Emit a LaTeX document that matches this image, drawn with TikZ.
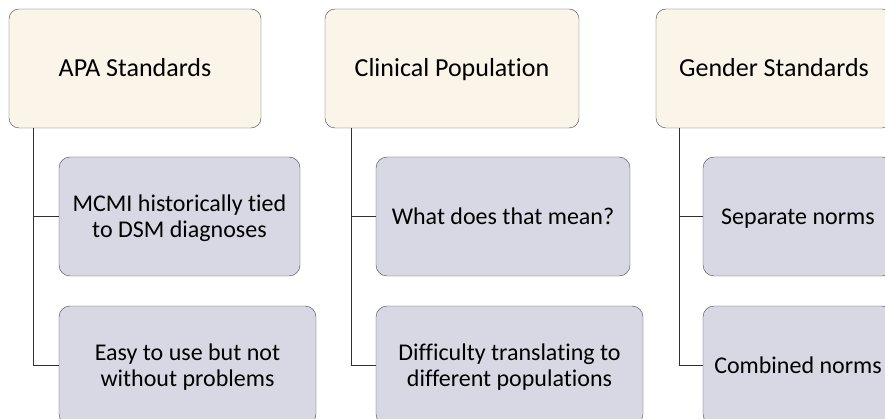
\documentclass[tikz,border=0pt]{standalone}
\usepackage{fontspec}
\setmainfont{Carlito}[Ligatures=NoCommon]
\definecolor{headfill}{RGB}{250,244,233}
\definecolor{itemfill}{RGB}{216,216,228}
\definecolor{linegray}{RGB}{48,48,48}
\definecolor{boxgray}{RGB}{70,70,70}
\newcommand{\lnstrut}{\rule[-0.206em]{0pt}{1.056em}}
\begin{document}
\begin{tikzpicture}[x=1pt,y=-1pt]

        \useasboundingbox (0,0) rectangle (885,419);
        \clip (0,0) rectangle (885,419);

        \begin{scope}[every node/.style={draw=boxgray,fill=headfill,rounded corners=10pt,
            minimum height=119pt,inner sep=0pt,font=\fontsize{26}{30}\selectfont}]
          \node[minimum width=252pt] (apa)    at (135,68.5) {\lnstrut APA Standards};
          \node[minimum width=254pt] (clin)   at (452,68.5) {\lnstrut Clinical Population};
          \node[minimum width=236pt] (gender) at (774,68.5) {\lnstrut Gender Standards};
        \end{scope}

        \begin{scope}[every node/.style={draw=boxgray,fill=itemfill,rounded corners=11pt,
            minimum height=119pt,inner sep=0pt,align=center,font=\fontsize{24}{26}\selectfont}]
          \node[minimum width=241pt] (mcmi)  at (179.5,216.5) {\lnstrut MCMI historically tied\\\lnstrut to DSM diagnoses};
          \node[minimum width=257pt] (easy)  at (187.5,365.5) {\lnstrut Easy to use but not\\\lnstrut without problems};
          \node[minimum width=254pt] (mean)  at (503,216.5)   {\lnstrut What does that mean?};
          \node[minimum width=267pt] (diff)  at (509.5,365.5) {\lnstrut Difficulty translating to\\\lnstrut different populations};
          \node[minimum width=190pt] (sep)   at (798,216.5)   {\lnstrut Separate norms};
          \node[minimum width=190pt] (comb)  at (798,365.5)   {\lnstrut Combined norms};
        \end{scope}

        \coordinate (apa-b)    at (33,128);
        \coordinate (clin-b)   at (351,128);
        \coordinate (gender-b) at (679,128);

        \begin{scope}[linegray,line width=1pt]
          \draw (apa-b)    |- (mcmi);
          \draw (apa-b)    |- (easy);
          \draw (clin-b)   |- (mean);
          \draw (clin-b)   |- (diff);
          \draw (gender-b) |- (sep);
          \draw (gender-b) |- (comb);
        \end{scope}

\end{tikzpicture}
\end{document}
